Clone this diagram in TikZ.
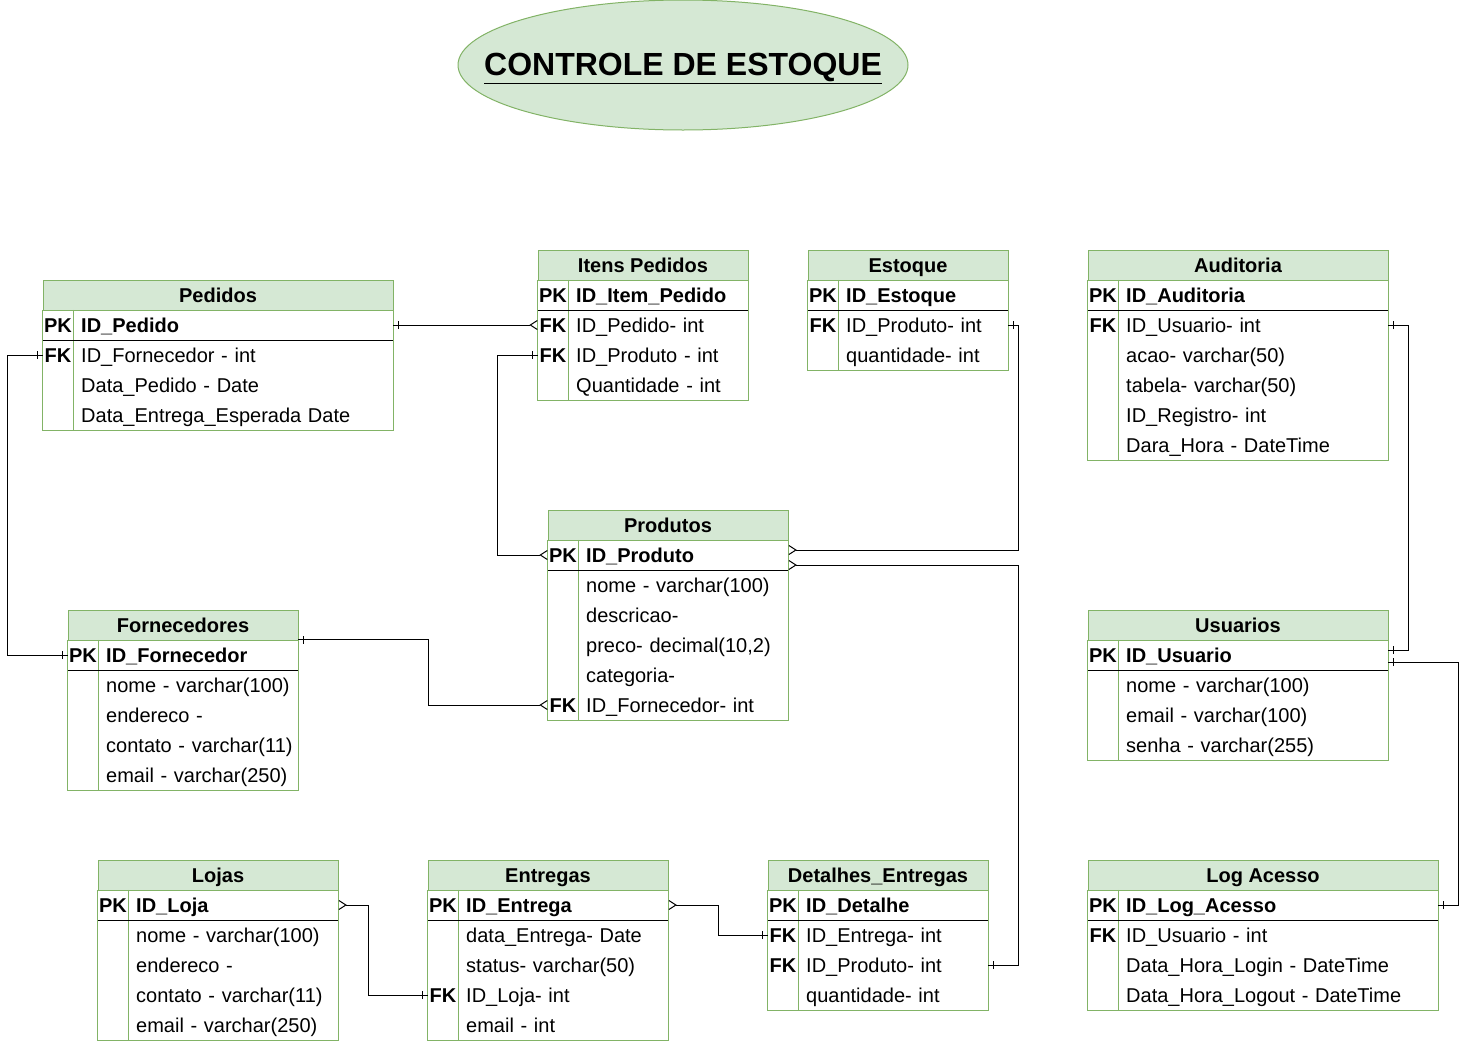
\documentclass[tikz,border=0pt]{standalone}
\usepackage{fontspec}
\setmainfont{Liberation Sans}
\usepackage{xcolor}
\usepackage{tikz}
\usetikzlibrary{shapes, arrows.meta, positioning, decorations.markings}

\definecolor{tabfill}{HTML}{D5E8D4}
\definecolor{tabline}{HTML}{82B366}

\begin{document}
\begin{tikzpicture}[
  x=1pt, y=-1pt,
  every node/.style={font=\fontsize{20}{24}\selectfont},
  title/.style={ellipse, draw=tabline, fill=tabfill, line width=1pt, minimum width=450pt, minimum height=130pt, inner sep=0pt},
  titletext/.style={inner sep=0pt, font=\fontsize{32}{38}\selectfont\bfseries},
  head/.style={rectangle, draw=tabline, fill=tabfill, line width=1pt, minimum height=30pt, inner sep=0pt, text height=15pt, text depth=1pt, font=\fontsize{20}{24}\selectfont\bfseries},
  key/.style={minimum width=30pt, minimum height=30pt, inner sep=0pt, text height=15pt, text depth=1pt, font=\fontsize{20}{24}\selectfont\bfseries},
  field/.style={anchor=west, minimum height=30pt, inner sep=0pt, text height=15pt, text depth=1pt, align=left},
  frame/.style={draw=tabline, line width=1pt},
  pkline/.style={draw=black, line width=1pt},
  link/.style={draw=black, line width=1pt},
  many end/.style={-{Straight Barb[reversed, length=7pt, width=9pt]}},
  many start/.style={{Straight Barb[reversed, length=7pt, width=9pt]}-},
  one end/.style={postaction={decorate, decoration={markings, mark=at position -5pt with {\draw[link, -] (0,-4pt) -- (0,4pt);}}}},
  one start/.style={postaction={decorate, decoration={markings, mark=at position 5pt with {\draw[link, -] (0,-4pt) -- (0,4pt);}}}}
]
\useasboundingbox (0,0) rectangle (1470,1042);

% Title
\node[title] (title) at (683,65) {};
\node[titletext] (title-text) at ([yshift=-3pt]title.center) {\underline{CONTROLE DE ESTOQUE}};

% Pedidos
\node[head, minimum width=350pt] (ped) at (218,295) {Pedidos};
\foreach \k/\f [count=\i] in {PK/\textbf{ID\_Pedido}, FK/ID\_Fornecedor - int, /Data\_Pedido - Date, /Data\_Entrega\_Esperada Date}{
  \node[key] (ped-k\i) at (58,295+30*\i) {\k};
  \node[field, text width=312pt] (ped-\i) at (81,295+30*\i) {\f};
}
\draw[frame] (ped.south west) rectangle (ped-4.south east);
\draw[frame] (ped-k1.north east) -- (ped-k4.south east);
\draw[pkline] (ped-k1.south west) -- (ped-1.south east);

% Itens Pedidos
\node[head, minimum width=210pt] (it) at (643,265) {Itens Pedidos};
\foreach \k/\f [count=\i] in {PK/\textbf{ID\_Item\_Pedido}, FK/ID\_Pedido- int, FK/ID\_Produto - int, /Quantidade - int}{
  \node[key] (it-k\i) at (553,265+30*\i) {\k};
  \node[field, text width=172pt] (it-\i) at (576,265+30*\i) {\f};
}
\draw[frame] (it.south west) rectangle (it-4.south east);
\draw[frame] (it-k1.north east) -- (it-k4.south east);
\draw[pkline] (it-k1.south west) -- (it-1.south east);

% Estoque
\node[head, minimum width=200pt] (est) at (908,265) {Estoque};
\foreach \k/\f [count=\i] in {PK/\textbf{ID\_Estoque}, FK/ID\_Produto- int, /quantidade- int}{
  \node[key] (est-k\i) at (823,265+30*\i) {\k};
  \node[field, text width=162pt] (est-\i) at (846,265+30*\i) {\f};
}
\draw[frame] (est.south west) rectangle (est-3.south east);
\draw[frame] (est-k1.north east) -- (est-k3.south east);
\draw[pkline] (est-k1.south west) -- (est-1.south east);

% Auditoria
\node[head, minimum width=300pt] (aud) at (1238,265) {Auditoria};
\foreach \k/\f [count=\i] in {PK/\textbf{ID\_Auditoria}, FK/ID\_Usuario- int, /acao- varchar(50), /tabela- varchar(50), /ID\_Registro- int, /Dara\_Hora - DateTime}{
  \node[key] (aud-k\i) at (1103,265+30*\i) {\k};
  \node[field, text width=262pt] (aud-\i) at (1126,265+30*\i) {\f};
}
\draw[frame] (aud.south west) rectangle (aud-6.south east);
\draw[frame] (aud-k1.north east) -- (aud-k6.south east);
\draw[pkline] (aud-k1.south west) -- (aud-1.south east);

% Produtos
\node[head, minimum width=240pt] (pro) at (668,525) {Produtos};
\foreach \k/\f [count=\i] in {PK/\textbf{ID\_Produto}, /nome - varchar(100), /descricao-, /{preco- decimal(10,2)}, /categoria-, FK/ID\_Fornecedor- int}{
  \node[key] (pro-k\i) at (563,525+30*\i) {\k};
  \node[field, text width=202pt] (pro-\i) at (586,525+30*\i) {\f};
}
\draw[frame] (pro.south west) rectangle (pro-6.south east);
\draw[frame] (pro-k1.north east) -- (pro-k6.south east);
\draw[pkline] (pro-k1.south west) -- (pro-1.south east);

% Fornecedores
\node[head, minimum width=230pt] (for) at (183,625) {Fornecedores};
\foreach \k/\f [count=\i] in {PK/\textbf{ID\_Fornecedor}, /nome - varchar(100), /endereco -, /contato - varchar(11), /email - varchar(250)}{
  \node[key] (for-k\i) at (83,625+30*\i) {\k};
  \node[field, text width=192pt] (for-\i) at (106,625+30*\i) {\f};
}
\draw[frame] (for.south west) rectangle (for-5.south east);
\draw[frame] (for-k1.north east) -- (for-k5.south east);
\draw[pkline] (for-k1.south west) -- (for-1.south east);

% Usuarios
\node[head, minimum width=300pt] (usu) at (1238,625) {Usuarios};
\foreach \k/\f [count=\i] in {PK/\textbf{ID\_Usuario}, /nome - varchar(100), /email - varchar(100), /senha - varchar(255)}{
  \node[key] (usu-k\i) at (1103,625+30*\i) {\k};
  \node[field, text width=262pt] (usu-\i) at (1126,625+30*\i) {\f};
}
\draw[frame] (usu.south west) rectangle (usu-4.south east);
\draw[frame] (usu-k1.north east) -- (usu-k4.south east);
\draw[pkline] (usu-k1.south west) -- (usu-1.south east);

% Lojas
\node[head, minimum width=240pt] (loj) at (218,875) {Lojas};
\foreach \k/\f [count=\i] in {PK/\textbf{ID\_Loja}, /nome - varchar(100), /endereco -, /contato - varchar(11), /email - varchar(250)}{
  \node[key] (loj-k\i) at (113,875+30*\i) {\k};
  \node[field, text width=202pt] (loj-\i) at (136,875+30*\i) {\f};
}
\draw[frame] (loj.south west) rectangle (loj-5.south east);
\draw[frame] (loj-k1.north east) -- (loj-k5.south east);
\draw[pkline] (loj-k1.south west) -- (loj-1.south east);

% Entregas
\node[head, minimum width=240pt] (ent) at (548,875) {Entregas};
\foreach \k/\f [count=\i] in {PK/\textbf{ID\_Entrega}, /data\_Entrega- Date, /status- varchar(50), FK/ID\_Loja- int, /email - int}{
  \node[key] (ent-k\i) at (443,875+30*\i) {\k};
  \node[field, text width=202pt] (ent-\i) at (466,875+30*\i) {\f};
}
\draw[frame] (ent.south west) rectangle (ent-5.south east);
\draw[frame] (ent-k1.north east) -- (ent-k5.south east);
\draw[pkline] (ent-k1.south west) -- (ent-1.south east);

% Detalhes_Entregas
\node[head, minimum width=220pt] (det) at (878,875) {Detalhes\_Entregas};
\foreach \k/\f [count=\i] in {PK/\textbf{ID\_Detalhe}, FK/ID\_Entrega- int, FK/ID\_Produto- int, /quantidade- int}{
  \node[key] (det-k\i) at (783,875+30*\i) {\k};
  \node[field, text width=182pt] (det-\i) at (806,875+30*\i) {\f};
}
\draw[frame] (det.south west) rectangle (det-4.south east);
\draw[frame] (det-k1.north east) -- (det-k4.south east);
\draw[pkline] (det-k1.south west) -- (det-1.south east);

% Log Acesso
\node[head, minimum width=350pt] (log) at (1263,875) {Log Acesso};
\foreach \k/\f [count=\i] in {PK/\textbf{ID\_Log\_Acesso}, FK/ID\_Usuario - int, /Data\_Hora\_Login - DateTime, /Data\_Hora\_Logout - DateTime}{
  \node[key] (log-k\i) at (1103,875+30*\i) {\k};
  \node[field, text width=312pt] (log-\i) at (1126,875+30*\i) {\f};
}
\draw[frame] (log.south west) rectangle (log-4.south east);
\draw[frame] (log-k1.north east) -- (log-k4.south east);
\draw[pkline] (log-k1.south west) -- (log-1.south east);

% Relationships
\draw[link, one start, many end] (ped-1.east) -- (it-k2.west);
\draw[link, one start, one end] (ped-k2.west) -- ++(-35,0) |- (for-k1.west);
\draw[link, one start, many end] (it-k3.west) -- ++(-40,0) |- (pro-k1.west);
\draw[link, one start, many end] (est-2.east) -- ++(10,0) |- ([yshift=5pt]pro-1.east);
\draw[link, many start, one end] ([yshift=-10pt]pro-1.east) -- ++(230,0) |- (det-3.east);
\draw[link, one start, many end] (for-1.north east) -- ++(130,0) |- (pro-k6.west);
\draw[link, one start, one end] (aud-2.east) -- ++(20,0) |- ([yshift=5pt]usu-1.east);
\draw[link, one start, one end] ([yshift=-7pt]usu-1.east) -- ++(70,0) |- (log-1.east);
\draw[link, many start, one end] (loj-1.east) -- ++(30,0) |- (ent-k4.west);
\draw[link, many start, one end] (ent-1.east) -- ++(50,0) |- (det-k2.west);

\end{tikzpicture}
\end{document}
